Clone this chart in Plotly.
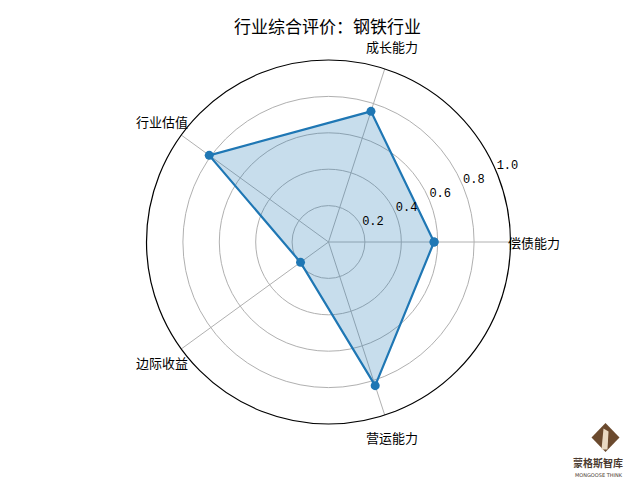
import math
import plotly.graph_objects as go

categories = ["偿债能力", "成长能力", "行业估值", "边际收益", "营运能力"]
angles_deg = [0, 72, 144, 216, 288]
values = [0.58, 0.755, 0.81, 0.19, 0.83]
r_ticks = [0.2, 0.4, 0.6, 0.8, 1.0]
r_tick_labels = ["0.2", "0.4", "0.6", "0.8", "1.0"]
title_text = "行业综合评价：钢铁行业"

FONT = "Noto Sans CJK SC, SimHei, sans-serif"
BLUE = "#1f77b4"
W, H = 640, 480
OFF = 8.0  # page body margin compensation
CX, CY, R = 328.5 - OFF, 242.0 - OFF, 182.0  # polar circle geometry in pixels
LABEL_R = 1.13

fig = go.Figure()

fig.add_trace(go.Scatterpolar(
    r=values + values[:1],
    theta=angles_deg + angles_deg[:1],
    mode="lines+markers",
    fill="toself",
    fillcolor="rgba(31,119,180,0.25)",
    line=dict(color=BLUE, width=2.2),
    marker=dict(color=BLUE, size=9),
    hoverinfo="skip",
))

# radial tick labels along 22.5 degrees
fig.add_trace(go.Scatterpolar(
    r=r_ticks,
    theta=[22.5] * len(r_ticks),
    mode="text",
    text=r_tick_labels,
    textposition="top right",
    textfont=dict(family="Liberation Mono, DejaVu Sans Mono, monospace", size=12, color="black"),
    cliponaxis=False,
    hoverinfo="skip",
))

fig.update_layout(
    width=W, height=H,
    margin=dict(l=0, r=0, t=0, b=0, autoexpand=False),
    paper_bgcolor="white",
    plot_bgcolor="white",
    showlegend=False,
    title=dict(text=title_text, x=(327.5 - OFF) / W, xanchor="center",
               y=1 - (27.5 - OFF) / H, yanchor="middle",
               font=dict(family=FONT, size=17, color="black")),
    polar=dict(
        domain=dict(x=[(CX - R) / W, (CX + R) / W],
                    y=[1 - (CY + R) / H, 1 - (CY - R) / H]),
        bgcolor="white",
        radialaxis=dict(range=[0, 1], tickmode="array", tickvals=r_ticks,
                        showticklabels=False, ticks="", showline=False,
                        gridcolor="#b0b0b0", gridwidth=0.8),
        angularaxis=dict(thetaunit="degrees", rotation=0, direction="counterclockwise",
                         tickmode="array", tickvals=angles_deg, showticklabels=False,
                         ticks="", showline=True, linecolor="black", linewidth=1.2,
                         gridcolor="#b0b0b0", gridwidth=0.8),
    ),
)

# category labels, centred just outside the circle
for name, a in zip(categories, angles_deg):
    px = CX + LABEL_R * R * math.cos(math.radians(a))
    py = CY - LABEL_R * R * math.sin(math.radians(a))
    fig.add_annotation(x=px / W, y=1 - py / H, xref="paper", yref="paper",
                       text=name, showarrow=False, xanchor="center", yanchor="middle",
                       font=dict(family=FONT, size=13, color="black"))

# logo (diamond mark + name)
cx, cy = (605.5 - OFF) / W, 1 - (437.5 - OFF) / H
fig.add_shape(type="path", xref="paper", yref="paper",
              path=f"M {cx} {cy + 14.5/H} L {cx + 14/W} {cy} L {cx} {cy - 14.5/H} L {cx - 14/W} {cy} Z",
              fillcolor="#6b4a2e", line=dict(width=0))
fig.add_shape(type="path", xref="paper", yref="paper",
              path=f"M {cx - 2/W} {cy + 9/H} L {cx + 3/W} {cy + 6/H} L {cx + 2/W} {cy - 12/H} L {cx - 4/W} {cy - 12/H} Z",
              fillcolor="#e9d9c2", line=dict(width=0))
fig.add_annotation(x=(597.5 - OFF) / W, y=1 - (462 - OFF) / H, xref="paper", yref="paper",
                   text="<b>蒙格斯智库</b>", showarrow=False, xanchor="center", yanchor="middle",
                   borderpad=0, font=dict(family=FONT, size=10, color="#4a3a30"))
fig.add_annotation(x=(598.5 - OFF) / W, y=1 - (475 - OFF) / H, xref="paper", yref="paper",
                   text="MONGOOSE THINK", showarrow=False, xanchor="center", yanchor="middle",
                   borderpad=0, font=dict(family="DejaVu Sans", size=5, color="#4a3a30"))

fig.write_html("out.html")
